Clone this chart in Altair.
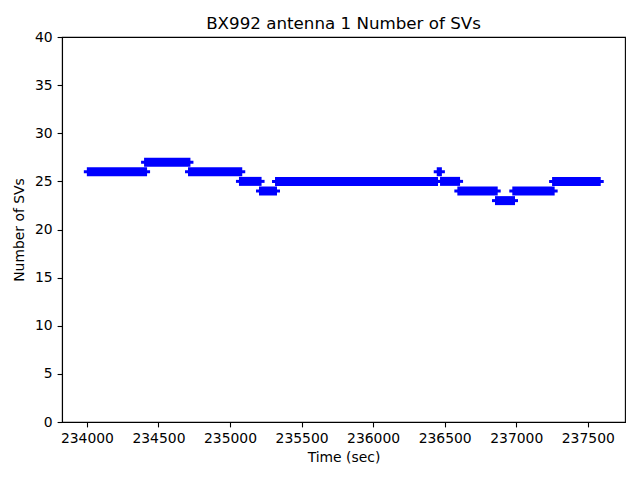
import altair as alt
import pandas as pd

# Segments of constant number of SVs (time in seconds)
seg_start = [234010, 234410, 234717, 235073, 235213, 235325, 236455, 236478, 236599, 236862, 236983, 237261]
seg_end   = [234410, 234713, 235075, 235210, 235318, 236443, 236470, 236597, 236860, 236981, 237258, 237580]
seg_value = [26, 27, 26, 25, 24, 25, 26, 25, 24, 23, 24, 25]

x_ticks = [234000, 234500, 235000, 235500, 236000, 236500, 237000, 237500]
y_ticks = [0, 5, 10, 15, 20, 25, 30, 35, 40]

df = pd.DataFrame({"start": seg_start, "end": seg_end, "n": seg_value})

x_scale = alt.Scale(domain=[233826, 237760], nice=False, zero=False)
y_scale = alt.Scale(domain=[0, 40], nice=False)

x_axis = alt.Axis(values=x_ticks, title="Time (sec)", format="d", grid=False)
y_axis = alt.Axis(values=y_ticks, title="Number of SVs", grid=False)

base = alt.Chart(df)

thick = base.mark_rule(color="#0000ff", strokeWidth=9, xOffset=-1.5, x2Offset=1.5).encode(
    x=alt.X("start:Q", scale=x_scale, axis=x_axis),
    x2="end:Q",
    y=alt.Y("n:Q", scale=y_scale, axis=y_axis),
)
thin = base.mark_rule(color="#0000ff", strokeWidth=3, xOffset=-4.5, x2Offset=4.5).encode(
    x=alt.X("start:Q", scale=x_scale),
    x2="end:Q",
    y=alt.Y("n:Q", scale=y_scale),
)

chart = (
    alt.layer(thick, thin)
    .properties(
        width=563,
        height=385,
        title=alt.TitleParams(
            "BX992 antenna 1 Number of SVs",
            fontSize=16.7,
            fontWeight="normal",
            font="DejaVu Sans",
            color="black",
            anchor="middle",
            frame="group",
            offset=-3,
        ),
        autosize=alt.AutoSizeParams(type="none"),
        padding={"left": 54, "top": 29, "right": 7, "bottom": 50},
    )
    .configure_view(stroke="black", strokeWidth=1.1)
    .configure_axis(
        domainColor="black",
        domainWidth=1.1,
        tickColor="black",
        tickWidth=1.1,
        tickSize=4.9,
        labelPadding=4.9,
        labelFont="DejaVu Sans",
        labelFontSize=13.9,
        labelColor="black",
        titleFont="DejaVu Sans",
        titleFontSize=13.9,
        titleFontWeight="normal",
        titleColor="black",
    )
    .configure_axisY(titlePadding=8)
    .configure_axisX(titlePadding=5)
)

chart.save("out.html", embed_options={"renderer": "svg", "actions": False})
